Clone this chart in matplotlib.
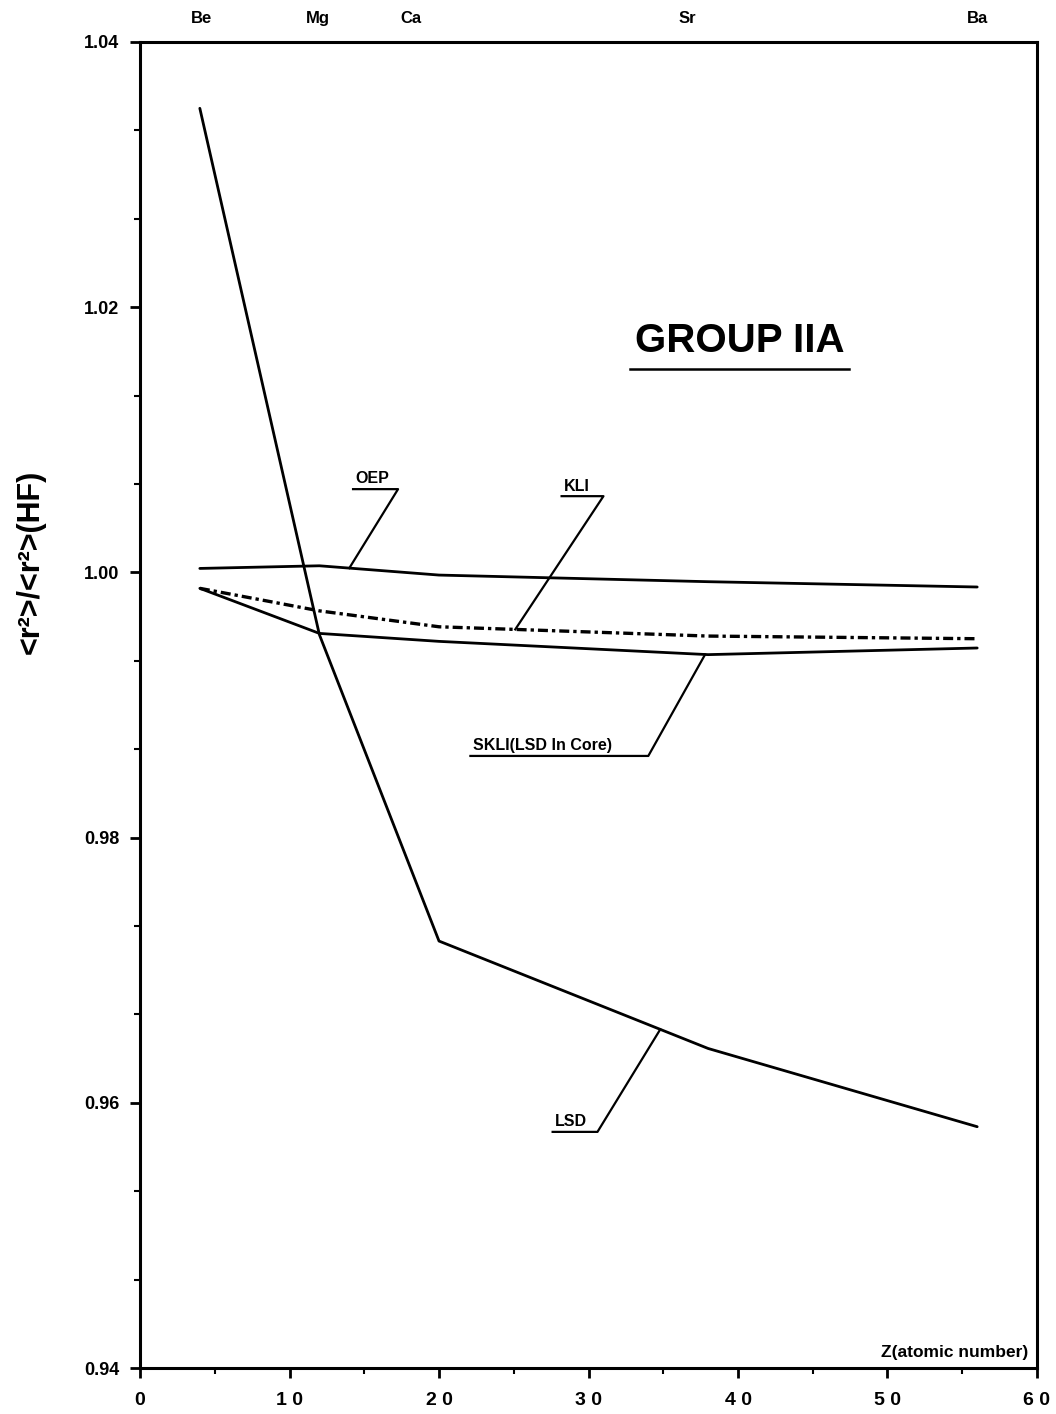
import numpy as np
import matplotlib
matplotlib.use('Agg')
import matplotlib.pyplot as plt
from matplotlib.ticker import MultipleLocator

plt.rcParams['font.family'] = ['Liberation Sans', 'DejaVu Sans']
plt.rcParams['font.weight'] = 'bold'

# atomic numbers of Be, Mg, Ca, Sr, Ba
elements = ['Be', 'Mg', 'Ca', 'Sr', 'Ba']
Z = [4, 12, 20, 38, 56]
label_z = [4.1, 11.9, 18.1, 36.6, 56.0]   # where the names sit on top

oep  = [1.0003, 1.0005, 0.9998, 0.9993, 0.9989]
kli  = [0.9988, 0.9971, 0.9959, 0.9952, 0.9950]
skli = [0.9988, 0.9954, 0.9948, 0.9938, 0.9943]
lsd  = [1.0350, 0.9953, 0.9722, 0.9641, 0.9582]

fig = plt.figure(figsize=(10.56, 14.14), dpi=100)
ax = fig.add_axes([0.1326, 0.0325, 0.8494, 0.9378])

ax.plot(Z, oep, color='black', lw=2.0, solid_capstyle='round')
ax.plot(Z, kli, color='black', lw=2.4, linestyle=(0, (3, 1.2, 1, 1.2)))
ax.plot(Z, skli, color='black', lw=2.0, solid_capstyle='round')
ax.plot(Z, lsd, color='black', lw=2.0, solid_capstyle='round')

ax.set_xlim(0, 60)
ax.set_ylim(0.94, 1.04)
ax.set_xticks(range(0, 61, 10))
ax.set_xticklabels(['0', '1 0', '2 0', '3 0', '4 0', '5 0', '6 0'],
                   fontsize=14, fontweight='bold')
ax.xaxis.set_minor_locator(MultipleLocator(5))
ax.set_yticks([0.94, 0.96, 0.98, 1.00, 1.02, 1.04])
ax.set_yticklabels(['0.94', '0.96', '0.98', '1.00', '1.02', '1.04'],
                   fontsize=13, fontweight='bold')
ax.yaxis.set_minor_locator(MultipleLocator(0.02 / 3))
ax.tick_params(axis='both', which='major', length=7, width=2, direction='out', pad=8)
ax.tick_params(axis='both', which='minor', length=4, width=1.5, direction='out')
ax.tick_params(axis='x', pad=10)
for s in ax.spines.values():
    s.set_linewidth(2.2)

ax.set_ylabel('<r²>/<r²>(HF)', fontsize=22, fontweight='bold')
ax.yaxis.set_label_coords(-0.105, 0.608)

# element names along the top
for name, zz in zip(elements, label_z):
    ax.text(zz, 1.012, name, transform=ax.get_xaxis_transform(),
            ha='center', va='bottom', fontsize=12, fontweight='bold')

ax.text(59.4, 0.9406, 'Z(atomic number)', ha='right', va='bottom',
        fontsize=12.5, fontweight='bold')

# title with underline
ax.text(40.1, 1.0160, 'GROUP IIA', ha='center', va='bottom',
        fontsize=29, fontweight='bold')
ax.plot([32.8, 47.4], [1.01535, 1.01535], color='black', lw=1.8)


def tag(text, x0, x1, y, z_to, series, pad=0.0002):
    ax.text(x0 + 0.15, y + pad, text, ha='left', va='bottom',
            fontsize=11.5, fontweight='bold')
    yt = np.interp(z_to, Z, series)
    ax.plot([x0, x1, z_to], [y, y, yt], color='black', lw=1.6)


tag('OEP', 14.25, 17.26, 1.00628, 14.0, oep)
tag('KLI', 28.2, 31.0, 1.00575, 25.1, kli)
tag('SKLI(LSD In Core)', 22.1, 34.0, 0.98616, 37.8, skli)
tag('LSD', 27.6, 30.6, 0.95781, 34.8, lsd)

fig.savefig('out.png', dpi=100)
